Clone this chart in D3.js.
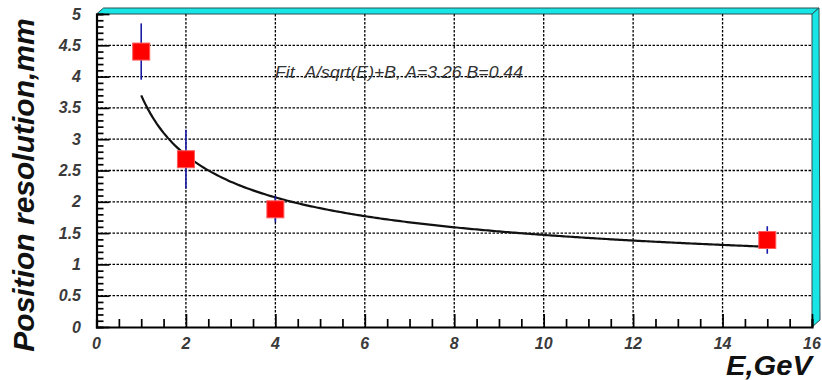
<!DOCTYPE html>
<html>
<head>
<meta charset="utf-8">
<script src="https://cdn.jsdelivr.net/npm/d3@7"></script>
<style>
  html, body { margin: 0; padding: 0; background: #fff; }
  svg { display: block; }
  text { font-family: Arial, "Liberation Sans", sans-serif; }
</style>
</head>
<body>
<svg id="chart" width="822" height="380"></svg>
<script>
// Beam energy (GeV) and measured position resolution (mm)
const energies = [1, 2, 4, 15];
const resolution = [4.40, 2.68, 1.88, 1.39];
const resolutionErr = [0.45, 0.47, 0.21, 0.22];

// Fit parameters of sigma = A/sqrt(E) + B
const fitA = 3.26;
const fitB = 0.44;
const fitRange = [1, 15];

const xTicks = [0, 2, 4, 6, 8, 10, 12, 14, 16];
const yTicks = [0, 0.5, 1, 1.5, 2, 2.5, 3, 3.5, 4, 4.5, 5];

const svg = d3.select("#chart");
const frameL = 96.5, frameR = 812, frameT = 14, frameB = 327;

const x = d3.scaleLinear().domain([0, 16]).range([frameL, frameR]);
const y = d3.scaleLinear().domain([0, 5]).range([frameB, frameT]);

// 3D frame bevel (top and right strips)
const depth = 7;
svg.append("polygon")
  .attr("points", [[frameL, frameT], [frameL + depth, frameT - depth + 1], [frameR + depth, frameT - depth + 1], [frameR, frameT]].join(" "))
  .attr("fill", "#18e6e6").attr("stroke", "#2b4f4f").attr("stroke-width", 1);
svg.append("polygon")
  .attr("points", [[frameR, frameT], [frameR + depth, frameT - depth + 1], [frameR + depth + 1, frameB - depth], [frameR, frameB]].join(" "))
  .attr("fill", "#18e6e6").attr("stroke", "#2b4f4f").attr("stroke-width", 1);

// Grid
const grid = svg.append("g").attr("stroke", "#000").attr("stroke-width", 1.3)
  .attr("stroke-dasharray", "2.5,1.5");
grid.selectAll("line.gx").data(xTicks.filter(v => v > 0 && v < 16)).join("line")
  .attr("x1", d => x(d)).attr("x2", d => x(d)).attr("y1", frameT).attr("y2", frameB);
grid.selectAll("line.gy").data(yTicks.filter(v => v > 0 && v < 5)).join("line")
  .attr("x1", frameL).attr("x2", frameR).attr("y1", d => y(d)).attr("y2", d => y(d));

// Axes: ticks point into the frame
const xAxis = d3.axisBottom(x).tickValues(d3.range(0, 16.01, 0.5))
  .tickSize(-8).tickFormat("");
const gx = svg.append("g").attr("transform", `translate(0,${frameB})`).call(xAxis);
gx.selectAll(".tick line").filter(d => d % 2 === 0).attr("y2", -13);

const yAxis = d3.axisLeft(y).tickValues(d3.range(0, 5.001, 0.1).map(v => +v.toFixed(1)))
  .tickSize(-7).tickFormat("");
const gy = svg.append("g").attr("transform", `translate(${frameL},0)`).call(yAxis);
gy.selectAll(".tick line").filter(d => Math.abs(d * 2 - Math.round(d * 2)) < 1e-6).attr("x2", 13);

[gx, gy].forEach(g => {
  g.select(".domain").attr("stroke", "#000").attr("stroke-width", 2.2);
  g.selectAll(".tick line").attr("stroke", "#000").attr("stroke-width", 1.7);
});

// Tick labels
const labelStyle = sel => sel.attr("font-size", 16).attr("font-style", "italic")
  .attr("font-weight", "bold").attr("fill", "#3a3a3a");
svg.append("g").selectAll("text").data(xTicks).join("text")
  .attr("x", d => x(d)).attr("y", 349).attr("text-anchor", "middle")
  .text(d => d).call(labelStyle);
svg.append("g").selectAll("text").data(yTicks).join("text")
  .attr("x", 81).attr("y", d => y(d) + 5.5).attr("text-anchor", "end")
  .text(d => d).call(labelStyle);

// Axis titles
svg.append("text")
  .attr("transform", "translate(34,185) rotate(-90)")
  .attr("text-anchor", "middle")
  .attr("font-size", 30).attr("font-weight", "bold").attr("font-style", "italic")
  .attr("fill", "#111")
  .text("Position resolution,mm");
svg.append("text")
  .attr("x", 726).attr("y", 375)
  .attr("font-size", 28).attr("font-weight", "bold").attr("font-style", "italic")
  .attr("fill", "#111")
  .attr("textLength", 86).attr("lengthAdjust", "spacingAndGlyphs")
  .text("E,GeV");

// Fit curve
const fitE = d3.range(fitRange[0], fitRange[1] + 1e-9, 0.05);
svg.append("path")
  .datum(fitE)
  .attr("fill", "none").attr("stroke", "#111").attr("stroke-width", 2.2)
  .attr("d", d3.line().x(e => x(e)).y(e => y(fitA / Math.sqrt(e) + fitB)));

// Fit label
svg.append("text")
  .attr("x", 275).attr("y", 78)
  .attr("font-size", 16).attr("font-style", "italic").attr("fill", "#333")
  .attr("textLength", 248).attr("lengthAdjust", "spacingAndGlyphs")
  .text(`Fit\u00a0\u00a0A/sqrt(E)+B, A=${fitA} B=${fitB}`);

// Data points with error bars
const pts = energies.map((e, i) => ({ e, r: resolution[i], err: resolutionErr[i] }));
svg.append("g").selectAll("line").data(pts).join("line")
  .attr("x1", d => x(d.e)).attr("x2", d => x(d.e))
  .attr("y1", d => y(d.r + d.err)).attr("y2", d => y(d.r - d.err))
  .attr("stroke", "#1a1aa8").attr("stroke-width", 1.6);
const s = 17;
svg.append("g").selectAll("rect").data(pts).join("rect")
  .attr("x", d => x(d.e) - s / 2).attr("y", d => y(d.r) - s / 2)
  .attr("width", s).attr("height", s)
  .attr("fill", "#ff0000").attr("stroke", "#ff5a5a").attr("stroke-width", 1);
</script>
</body>
</html>
